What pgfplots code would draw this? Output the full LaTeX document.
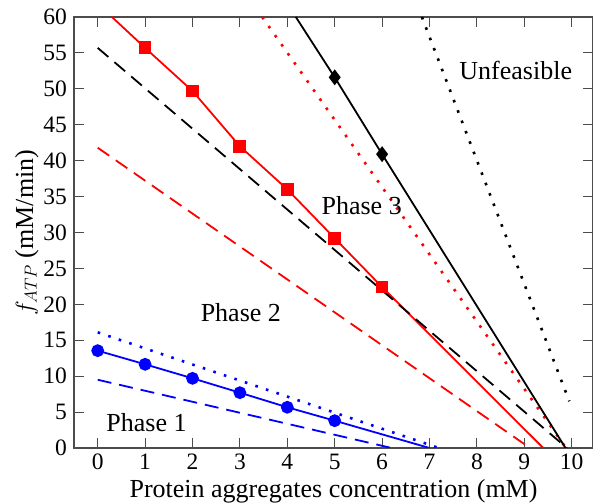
\documentclass[border=0pt]{standalone}
\usepackage{fontspec}
\setmainfont{Liberation Serif}
\usepackage{pgfplots}
\pgfplotsset{compat=1.18}
\newcommand{\lbl}{\rmfamily\fontsize{26}{28}\selectfont}
\begin{document}
\begin{tikzpicture}
\begin{axis}[
  name=ax,
  scale only axis,
  width=519pt, height=431pt,
  xmin=-0.5, xmax=10.45, ymin=0, ymax=60,
  xtick={0,1,...,10}, ytick={0,5,...,60},
  tick align=inside, major tick length=10pt,
  tick style={black!70, line width=1pt},
  axis line style={black!70, line width=1.2pt},
  /pgf/number format/assume math mode=true,
  tick label style={font=\rmfamily\fontsize{23.5}{25}\selectfont},
  xticklabel style={anchor=north, inner sep=0pt, yshift=-6pt},
  yticklabel style={anchor=east, inner sep=0pt, xshift=-7pt},
  xlabel={Protein aggregates concentration (mM)},
  ylabel={$f_{ATP}$ (mM/min)},
  xlabel style={font=\lbl, inner sep=0pt, at={(axis description cs:0.5,-0.1145)}, anchor=base},
  ylabel style={font=\lbl, inner sep=0pt, at={(axis description cs:-0.079,0.5)}, anchor=base},
  clip=true,
]
% blue
\addplot[blue, line width=1.8pt, mark=*, mark size=5.5pt, mark options={solid}] coordinates {(0,13.55) (1,11.65) (2,9.7) (3,7.7) (4,5.67) (5,3.8)};
\addplot[blue, line width=1.8pt] coordinates {(5,3.8) (7,0)};
\addplot[blue, line width=2.6pt, dash pattern=on 2.6pt off 8.5pt] coordinates {(0,16.1) (7.2,0)};
\addplot[blue, line width=1.8pt, dash pattern=on 14pt off 8pt] coordinates {(0,9.5) (6.2,0)};
% red
\addplot[red, line width=1.8pt, mark=square*, mark size=5.5pt, mark options={solid}] coordinates {(1,55.7) (2,49.7) (3,42.0) (4,36.0) (5,29.2) (6,22.4)};
\addplot[red, line width=1.8pt] coordinates {(0.3,60) (1,55.7)};
\addplot[red, line width=1.8pt] coordinates {(6,22.4) (9.4,0)};
\addplot[red, line width=1.8pt, dash pattern=on 14pt off 8pt] coordinates {(0,41.8) (9.12,0)};
\addplot[red, line width=2.6pt, dash pattern=on 2.6pt off 8.5pt] coordinates {(3.47,60) (9.88,0)};
% black
\addplot[black, line width=1.8pt, dash pattern=on 14pt off 8pt] coordinates {(0,55.7) (9.9,0)};
\addplot[black, line width=1.8pt, mark=diamond*, mark size=6.5pt, mark options={solid}] coordinates {(5,51.6) (6,40.9)};
\addplot[black, line width=1.8pt] coordinates {(4.18,60) (5,51.6)};
\addplot[black, line width=1.8pt] coordinates {(6,40.9) (9.87,0)};
\addplot[black, line width=2.6pt, dash pattern=on 2.6pt off 8.5pt] coordinates {(6.84,60) (9.95,6.5)};
% labels
\node[font=\lbl] at (axis cs:1.03,3.5) {Phase 1};
\node[font=\lbl] at (axis cs:3.02,18.8) {Phase 2};
\node[font=\lbl] at (axis cs:5.57,33.8) {Phase 3};
\node[font=\lbl] at (axis cs:8.82,52.6) {Unfeasible};
\end{axis}
\pgfresetboundingbox
\useasboundingbox ([xshift=-74pt,yshift=-55pt]ax.south west) rectangle ([yshift=17pt]ax.north east);
\end{tikzpicture}
\end{document}
